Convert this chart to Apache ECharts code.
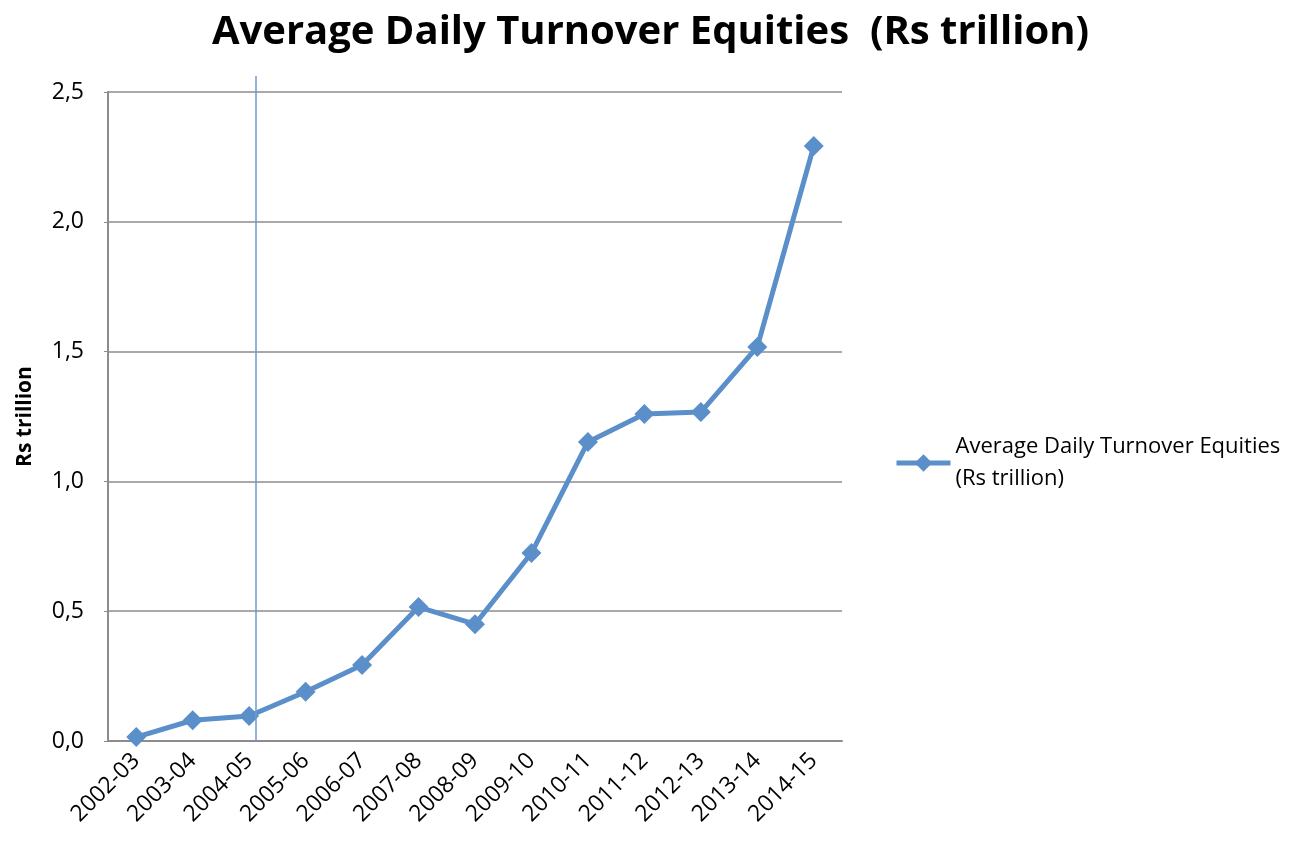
<!DOCTYPE html>
<html>
<head>
<meta charset="utf-8">
<script src="https://cdn.jsdelivr.net/npm/echarts@6/dist/echarts.min.js"></script>
<style>
    html, body {margin: 0; padding: 0; background: #fff;}
    #chart {width: 1301px; height: 842px;}
</style>
</head>
<body>
<div id="chart"></div>
<script>
// 年度
var years = ['2002-03', '2003-04', '2004-05', '2005-06', '2006-07', '2007-08', '2008-09',
    '2009-10', '2010-11', '2011-12', '2012-13', '2013-14', '2014-15'];
// 日均成交额 (Rs trillion)
var turnover = [0.015, 0.08, 0.096, 0.19, 0.293, 0.516, 0.45, 0.724, 1.152, 1.26, 1.267, 1.518, 2.292];
var markerPos = 2.62; // 竖线位置 (类目单位)

var seriesName = 'Average Daily Turnover Equities  (Rs trillion)';
var blue = '#5b8fca';
var font = '"Open Sans", "Liberation Sans", sans-serif';

var chart = echarts.init(document.getElementById('chart'));

var option = {
    backgroundColor: '#ffffff',
    animation: false,
    textStyle: {fontFamily: font},
    title: {
        text: seriesName,
        left: 'center',
        top: 8,
        textStyle: {fontSize: 40, fontWeight: 'bold', color: '#000', fontFamily: font}
    },
    legend: {
        orient: 'vertical',
        left: 889,
        top: 426,
        itemWidth: 54,
        itemHeight: 22,
        lineStyle: {width: 5},
        data: [{name: seriesName}],
        formatter: function () {
            return 'Average Daily Turnover Equities\n(Rs trillion)';
        },
        textStyle: {fontSize: 22, color: '#000', lineHeight: 32, fontFamily: font}
    },
    grid: [
        {left: 108, right: 459, top: 92, bottom: 101},
        {left: 108, right: 459, top: 76, bottom: 101, show: false}
    ],
    xAxis: [
        {
            type: 'category',
            data: years,
            boundaryGap: true,
            axisLine: {lineStyle: {color: '#8c8c8c', width: 2}},
            axisTick: {show: false},
            axisLabel: {rotate: 45, fontSize: 23, color: '#000', margin: 16, interval: 0}
        },
        {
            type: 'value',
            gridIndex: 1,
            min: 0,
            max: years.length,
            show: false
        }
    ],
    yAxis: [
        {
            type: 'value',
            min: 0,
            max: 2.5,
            interval: 0.5,
            name: 'Rs trillion',
            nameLocation: 'middle',
            nameGap: 72,
            nameTextStyle: {fontSize: 21, fontWeight: 'bold', color: '#000'},
            axisLine: {show: true, lineStyle: {color: '#8c8c8c', width: 2}},
            axisTick: {show: true, length: 4, lineStyle: {color: '#8c8c8c'}},
            splitLine: {lineStyle: {color: '#8c8c8c', width: 1.5}},
            axisLabel: {
                fontSize: 23,
                color: '#000',
                margin: 24,
                formatter: function (v) {
                    return v.toFixed(1).replace('.', ',');
                }
            }
        },
        {
            type: 'value',
            gridIndex: 1,
            min: 0,
            max: 1,
            show: false
        }
    ],
    series: [
        {
            name: seriesName,
            type: 'line',
            data: turnover,
            symbol: 'diamond',
            symbolSize: 20,
            lineStyle: {color: blue, width: 5},
            itemStyle: {color: blue},
            z: 3
        },
        {
            name: 'marker',
            type: 'line',
            xAxisIndex: 1,
            yAxisIndex: 1,
            data: [],
            silent: true,
            markLine: {
                symbol: 'none',
                silent: true,
                label: {show: false},
                lineStyle: {color: '#6e9bd0', width: 1.5, type: 'solid'},
                data: [[{coord: [markerPos, 0]}, {coord: [markerPos, 1]}]]
            },
            z: 2
        }
    ]
};

chart.setOption(option);
window.onresize = function () {
    chart.resize();
};
</script>
</body>
</html>
